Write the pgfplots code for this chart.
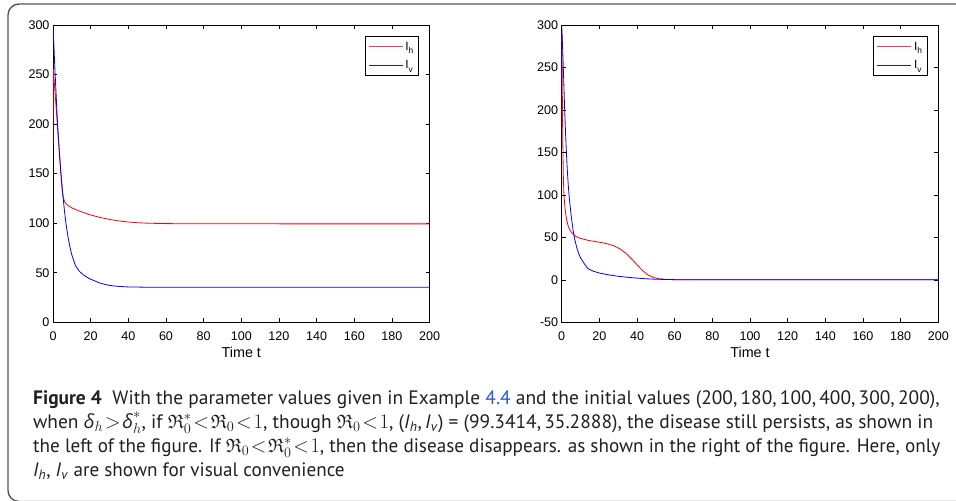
\documentclass[border=0pt]{standalone}
\usepackage{pgfplots}
\pgfplotsset{compat=1.18}
\usepackage{amssymb}
\usepackage{fontspec}
\setmainfont{Liberation Sans}
\newfontfamily\capfont{PT Sans}
\newfontfamily\grkfont{Open Sans}
\newfontfamily\plotfont{Liberation Sans}
\definecolor{linkblue}{RGB}{45,85,215}
\definecolor{capgray}{RGB}{35,31,32}
\definecolor{lgblue}{RGB}{20,20,255}
\definecolor{lgred}{RGB}{255,60,60}
\newcommand{\capsetup}{\capfont\fontsize{19.5}{22}\selectfont\thickmuskip=1.5mu\relax\medmuskip=1mu\relax}

\pgfplotstableread{
t v
0 180
0.15 256
0.5 247
1 234
1.5 221
2 208
2.5 195
3 182
3.5 169
4 156
4.5 143
5 132
5.5 126
6 122.5
7 119.5
8 117.8
10 115.5
12 113.8
15 111.5
20 108.3
25 105.8
30 103.8
35 102.3
40 101.2
45 100.5
50 100.0
60 99.6
70 99.45
80 99.38
100 99.35
200 99.34
}\leftIh

\pgfplotstableread{
t v
0 300
0.5 278
1 256
1.5 236
2 216
2.5 198
3 182
3.5 168
4 155
5 133
6 114
7 98
8 86
9 76
10 68
12 57
14 51.5
16 48
18 45.5
20 43.5
25 39.5
30 37.2
35 36.2
40 35.7
50 35.4
60 35.3
200 35.29
}\leftIv

\pgfplotstableread{
t v
0 180
0.08 290
0.2 255
0.4 200
0.6 160
0.9 118
1.2 100
1.6 88
2 80
2.6 71
3.5 63
4.5 58
5.5 55
6.5 52.8
8 50.5
10 48.8
14 46.5
18 45
22 43.5
25 42
28 39.8
31 36.3
34 31.5
37 25
40 17.8
43 10.8
46 5.5
49 2.6
52 1.2
55 0.5
60 0.15
70 0
200 0
}\rightIh

\pgfplotstableread{
t v
0 300
0.5 272
1 240
1.5 205
2 175
2.5 150
3 128
3.5 111
4 97
5 76
6 59
7 47
8 38
9 31
10 26
12 19
14 13
17 10
20 8
25 5.8
30 4.2
35 3
40 2
45 1.2
50 0.7
60 0.2
80 0
200 0
}\rightIv

\pgfplotsset{
  mstyle/.style={
    scale only axis, width=376.6bp, height=297.3bp,
    xmin=0, xmax=200, xtick={0,20,...,200},
    tick align=inside, major tick length=4bp,
    axis line style={black, line width=0.6bp},
    every tick/.style={black, line width=0.6bp},
    tick label style={font=\plotfont\fontsize{12.6}{14}\selectfont},
    xticklabel style={yshift=-6bp},
    /pgf/number format/assume math mode=true,
    xlabel={Time t},
    xlabel style={font=\plotfont\fontsize{14.4}{16}\selectfont, inner sep=0pt, yshift=-3bp},
    legend cell align=left,
    legend style={at={(1,1)}, anchor=north east, xshift=-11bp, yshift=-11bp,
      draw, line width=0.6bp, font=\plotfont\fontsize{12}{14}\selectfont,
      inner xsep=3bp, inner ysep=3.5bp, row sep=5bp},
    legend image code/.code={\draw[#1] (0bp,0bp) -- (34bp,0bp);},
    every axis plot/.append style={line width=0.8bp},
  }
}

\newcommand{\sub}[1]{I\raisebox{-3.5bp}{\fontsize{8.4}{9}\selectfont #1}}
\newcommand{\Rf}{\mathfrak{R}}
\newcommand{\dl}{\mbox{\grkfont\itshape δ}}

\begin{document}
\begin{tikzpicture}
\path[use as bounding box] (0bp,0bp) rectangle (956bp,-501bp);
\begin{scope}
\clip (0bp,0bp) rectangle (956bp,-501bp);
\draw[line width=1.4bp, color={rgb,255:red,85;green,85;blue,85}, rounded corners=11bp]
  (8bp,-4bp) rectangle (990bp,-501.5bp);
\end{scope}

\begin{axis}[mstyle, at={(53bp,-322.3bp)}, anchor=south west,
  ymin=0, ymax=300, ytick={0,50,...,300}]
\addplot[red, forget plot] table[x=t,y=v] {\leftIh};
\addplot[blue, forget plot] table[x=t,y=v] {\leftIv};
\addlegendimage{color=lgred, line width=1.3bp}
\addlegendentry{\sub{h}}
\addlegendimage{color=lgblue, line width=1.3bp}
\addlegendentry{\sub{v}}
\end{axis}

\begin{axis}[mstyle, at={(561.7bp,-322.3bp)}, anchor=south west,
  ymin=-50, ymax=300, ytick={-50,0,...,300}]
\addplot[red, forget plot] table[x=t,y=v] {\rightIh};
\addplot[blue, forget plot] table[x=t,y=v] {\rightIv};
\addlegendimage{color=lgred, line width=1.3bp}
\addlegendentry{\sub{h}}
\addlegendimage{color=lgblue, line width=1.3bp}
\addlegendentry{\sub{v}}
\end{axis}

\begin{scope}[every node/.style={anchor=base west, inner sep=0pt, text=capgray,
   font=\capsetup}]
\node at (33bp,-404bp) {\textbf{Figure 4}\hspace{0.55em}With the parameter values given in Example \textcolor{linkblue}{4.4} and the initial values (200,\,180,\,100,\,400,\,300,\,200),};
\node at (33bp,-428bp) {when $\dl_h>\dl_h^*$, if $\Rf_0^*<\Rf_0<1$, though $\Rf_0<1$, (\textit{I}\textsubscript{\textit{h}},\,\textit{I}\textsubscript{\textit{v}}) = (99.3414,\,35.2888), the disease still persists, as shown in};
\node at (33bp,-452bp) {\scalebox{0.987}[1]{the left of the figure. If $\Rf_0<\Rf_0^*<1$, then the disease disappears. as shown in the right of the figure. Here, only}};
\node at (33bp,-476bp) {\scalebox{0.985}[1]{\textit{I}\textsubscript{\textit{h}}, \textit{I}\textsubscript{\textit{v}} are shown for visual convenience}};
\end{scope}
\end{tikzpicture}
\end{document}
